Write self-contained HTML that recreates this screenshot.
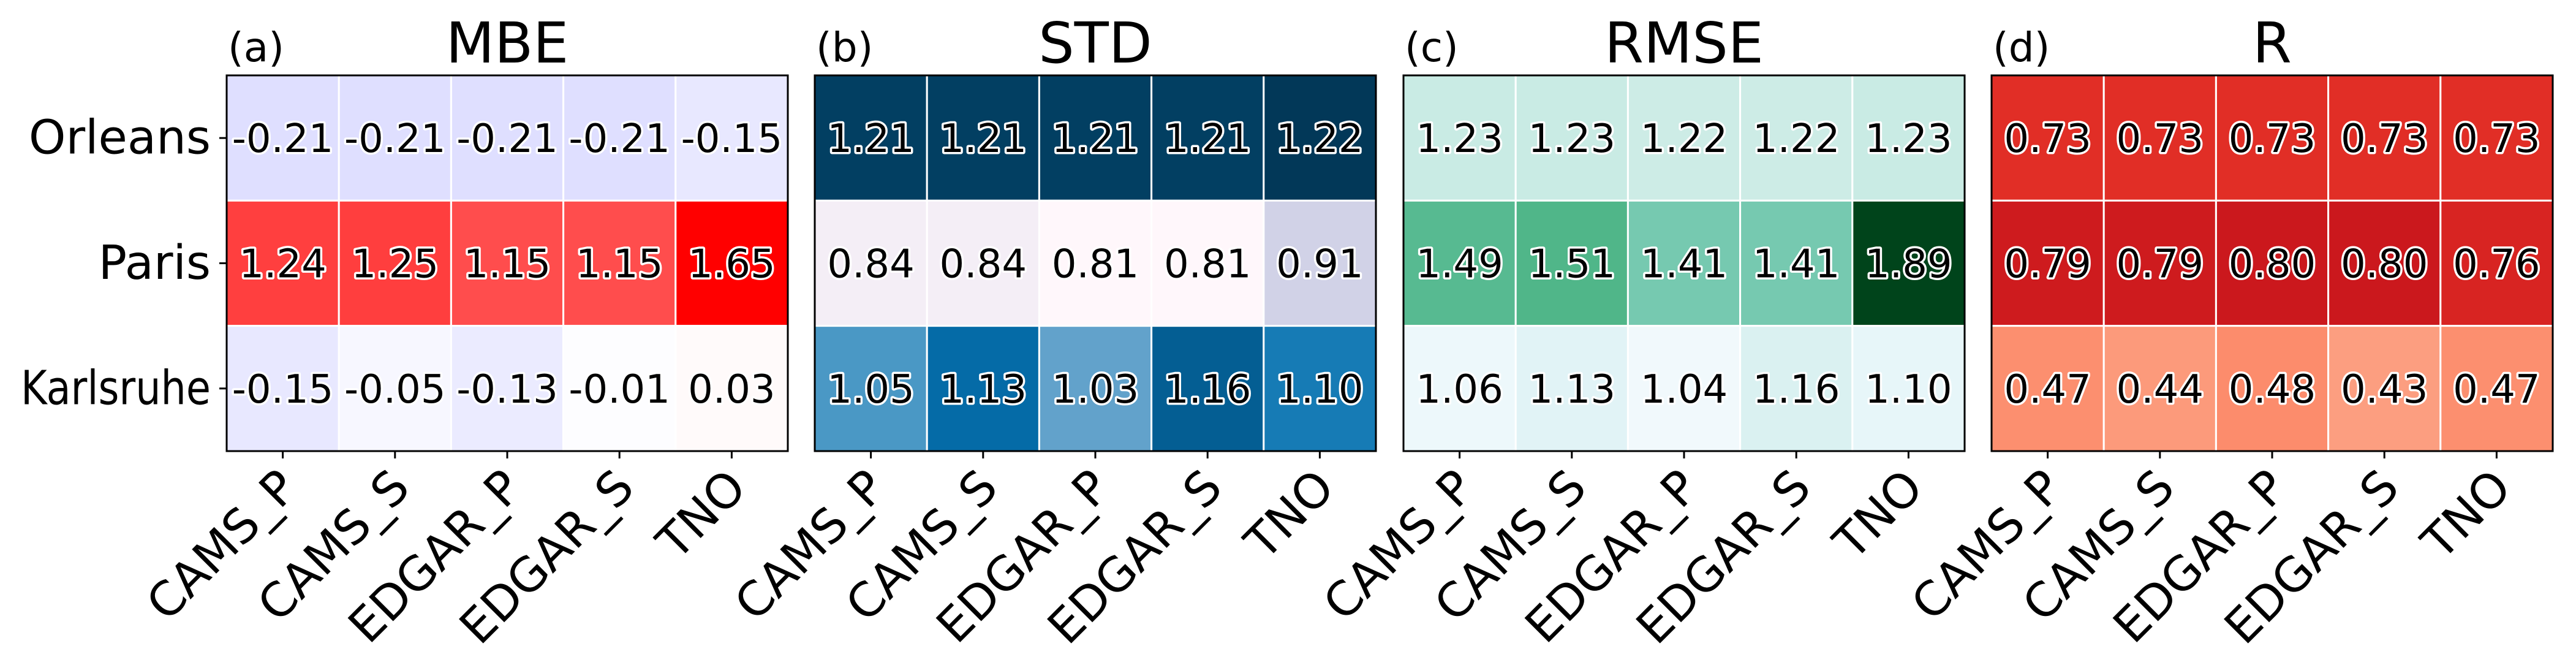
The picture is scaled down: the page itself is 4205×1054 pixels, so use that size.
<!DOCTYPE html>
<html><head><meta charset="utf-8"><style>
html,body{margin:0;padding:0;background:#fff;}
svg{display:block;font-family:"DejaVu Sans","Liberation Sans",sans-serif;}
.cell-text{font-size:64px;text-anchor:middle;dominant-baseline:central;paint-order:stroke;stroke:#fff;stroke-width:7px;stroke-linejoin:round;fill:#000;}
</style></head><body>
<svg id="chart" width="4205" height="1054" viewBox="0 0 4205 1054" xmlns="http://www.w3.org/2000/svg"></svg>
<script>
const models = ["CAMS_P","CAMS_S","EDGAR_P","EDGAR_S","TNO"];
const sites = ["Orleans","Paris","Karlsruhe"];
const panelTitles = ["MBE","STD","RMSE","R"];
const panelLetters = ["(a)","(b)","(c)","(d)"];
const mbeValues = [[-0.21,-0.21,-0.21,-0.21,-0.15],[1.24,1.25,1.15,1.15,1.65],[-0.15,-0.05,-0.13,-0.01,0.03]];
const stdValues = [[1.21,1.21,1.21,1.21,1.22],[0.84,0.84,0.81,0.81,0.91],[1.05,1.13,1.03,1.16,1.10]];
const rmseValues = [[1.23,1.23,1.22,1.22,1.23],[1.49,1.51,1.41,1.41,1.89],[1.06,1.13,1.04,1.16,1.10]];
const rValues = [[0.73,0.73,0.73,0.73,0.73],[0.79,0.79,0.80,0.80,0.76],[0.47,0.44,0.48,0.43,0.47]];

const NS="http://www.w3.org/2000/svg";
const svg=document.getElementById('chart');
function mk(tag,attrs,parent){const e=document.createElementNS(NS,tag);for(const k in attrs)e.setAttribute(k,attrs[k]);(parent||svg).appendChild(e);return e;}
function hex(h){return [parseInt(h.slice(1,3),16),parseInt(h.slice(3,5),16),parseInt(h.slice(5,7),16)];}
function seq(stops,t){t=Math.max(0,Math.min(1,t));const n=stops.length-1;const i=Math.min(n-1,Math.floor(t*n));const f=t*n-i;const a=hex(stops[i]),b=hex(stops[i+1]);return 'rgb('+a.map((v,k)=>Math.round(v+(b[k]-v)*f)).join(',')+')';}
function bwr(v){const t=(v+1.65)/3.3;let r,g,b;if(t<0.5){r=g=2*t;b=1;}else{r=1;g=b=2*(1-t);}return 'rgb('+[r,g,b].map(x=>Math.round(Math.max(0,Math.min(1,x))*255)).join(',')+')';}
const PuBu=["#fff7fb","#ece7f2","#d0d1e6","#a6bddb","#74a9cf","#3690c0","#0570b0","#045a8d","#023858"];
const BuGn=["#f7fcfd","#e5f5f9","#ccece6","#99d8c9","#66c2a4","#41ae76","#238b45","#006d2c","#00441b"];
const Reds=["#fff5f0","#fee0d2","#fcbba1","#fc9272","#fb6a4a","#ef3b2c","#cb181d","#a50f15","#67000d"];
const panels=[
 {vals:mbeValues,color:bwr},
 {vals:stdValues,color:v=>seq(PuBu,(v-0.81)/(1.22-0.81))},
 {vals:rmseValues,color:v=>seq(BuGn,(v-1.0)/(1.89-1.0))},
 {vals:rValues,color:v=>seq(Reds,(v-0.125)/(1.025-0.125))}
];
const panelLeft=[370,1330,2291,3251];
const W=916, topY=123, H=613;
const cw=W/models.length, ch=H/sites.length;
function xPos(p,j){return panelLeft[p]+cw*(j+0.5);}
function yPos(i){return topY+ch*(i+0.5);}

panels.forEach((pn,p)=>{
  const g=mk('g',{});
  
  
  pn.vals.forEach((row,i)=>row.forEach((v,j)=>{
    const r=mk('rect',{x:xPos(p,j)-cw/2,y:yPos(i)-ch/2,width:cw,height:ch,fill:pn.color(v),stroke:'#fff','stroke-width':3},g);
    
    
    const t=mk('text',{x:xPos(p,j),y:yPos(i)+2,class:'cell-text'},g);
    t.textContent=v.toFixed(2);
    
    
  }));
  const fr=mk('rect',{x:panelLeft[p],y:topY,width:W,height:H,fill:'none',stroke:'#000','stroke-width':3},g);
  
  
  const tt=mk('text',{x:panelLeft[p]+W/2,y:102,'text-anchor':'middle','font-size':92},g);
  tt.textContent=panelTitles[p];
  
  
  const lt=mk('text',{x:panelLeft[p]+2,y:100,'font-size':66},g);
  lt.textContent=panelLetters[p];
  
  
  models.forEach((m,j)=>{
    const x=xPos(p,j);
    const tk=mk('line',{x1:x,y1:topY+H,x2:x,y2:topY+H+12,stroke:'#000','stroke-width':3},g);
    
    
    const ax=x-12, ay=topY+H+24;
    const lb=mk('text',{x:ax,y:ay,'text-anchor':'end','dominant-baseline':'hanging','font-size':77,transform:'rotate(-45 '+ax+' '+ay+')'},g);
    lb.textContent=m;
    
    
  });
});
const maxYLabelWidth=310;
sites.forEach((s,i)=>{
  const y=yPos(i);
  const tk=mk('line',{x1:panelLeft[0]-12,y1:y,x2:panelLeft[0],y2:y,stroke:'#000','stroke-width':3});
  
  
  const lb=mk('text',{x:panelLeft[0]-26,y:y,'text-anchor':'end','dominant-baseline':'central','font-size':77});
  lb.textContent=s;
  
  
  const w=lb.getComputedTextLength();
  if(w>maxYLabelWidth){lb.setAttribute('textLength',maxYLabelWidth);lb.setAttribute('lengthAdjust','spacingAndGlyphs');}
});
</script>
</body></html>
